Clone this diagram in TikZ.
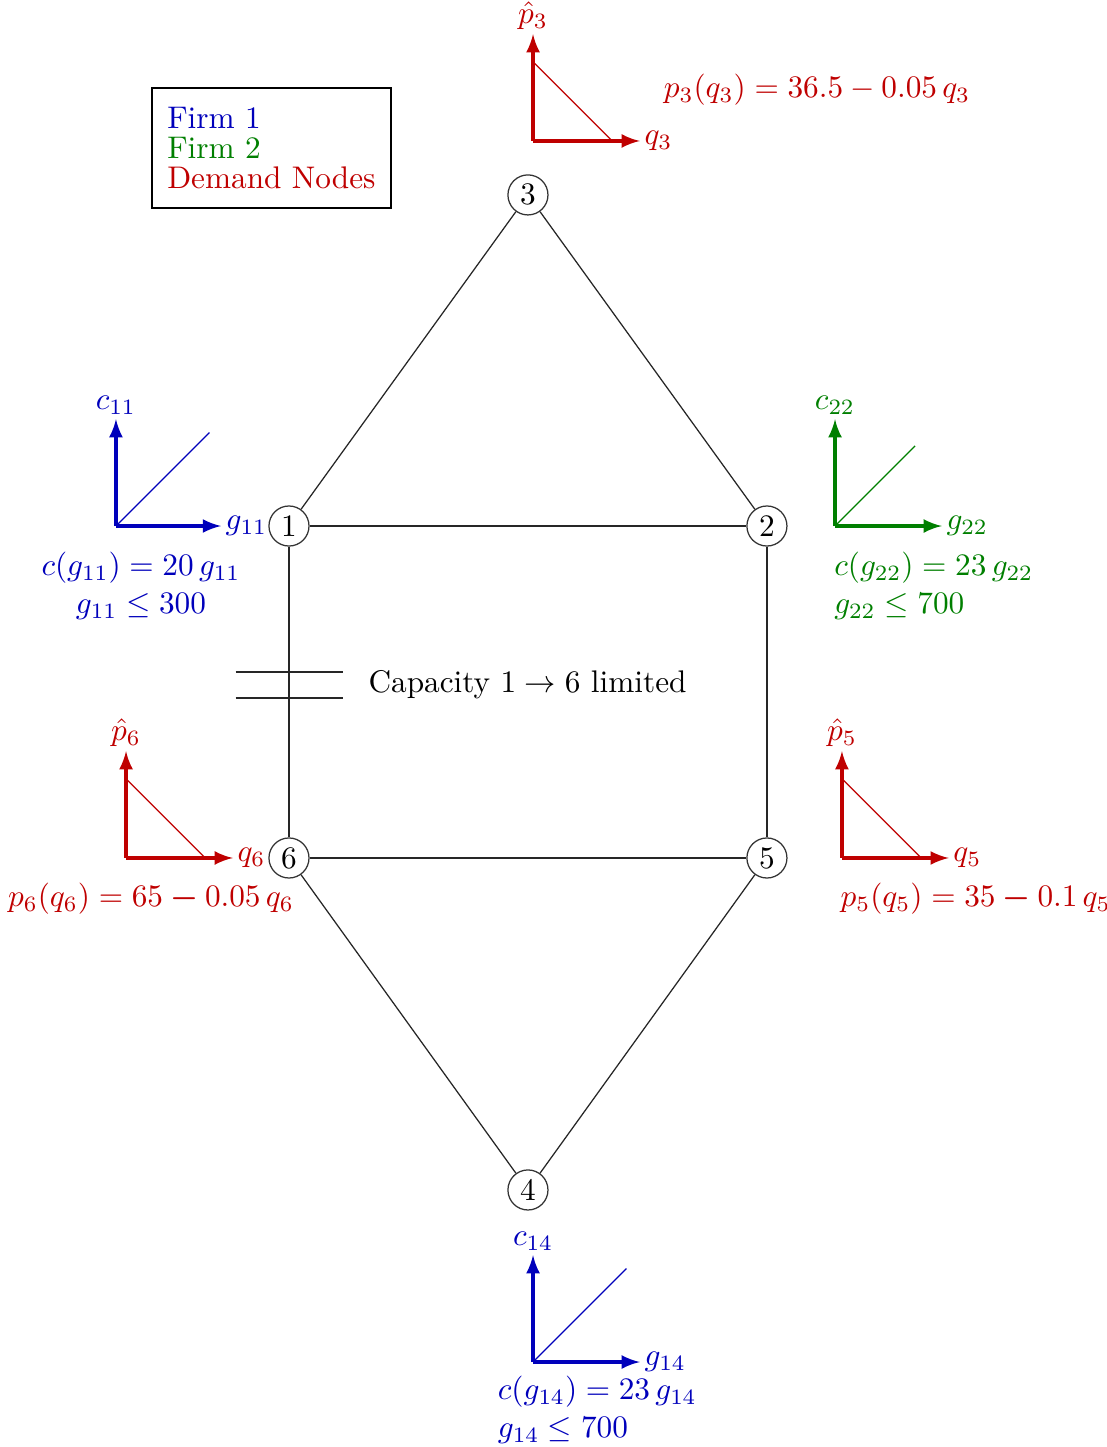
\documentclass[tikz,border=0pt]{standalone}
\usepackage{amsmath,amssymb}
\usepackage{xcolor}
\usepackage{tikz}
\usetikzlibrary{arrows, positioning}
\definecolor{firmone}{HTML}{0000BB}
\definecolor{firmtwo}{HTML}{007F00}
\definecolor{demand}{HTML}{BF0000}

\begin{document}
\begin{tikzpicture}[
        on grid,
        bus/.style={circle, draw=black!80, inner sep=0.5pt, minimum size=0.45cm},
        line/.style={draw=black!85},
        axisline/.style={-latex, line width=1pt},
        curve/.style={thin},
        legendbox/.style={rectangle, draw, semithick, align=left, inner xsep=5pt, inner ysep=6pt, font=\fontsize{10}{9.6}\selectfont}
    ]
        \useasboundingbox (-3.247,-10.348) rectangle (9.191,5.910);

        % Nodes
        \node (n1) [bus] {1};
        \node (n2) [bus, right=5.37cm of n1] {2};
        \node (n3) [bus, above right=3.72cm and 2.685cm of n1] {3};
        \node (n6) [bus, below=3.73cm of n1] {6};
        \node (n5) [bus, below=3.73cm of n2] {5};
        \node (n4) [bus, below right=7.46cm and 2.685cm of n1] {4};

        \node (legend) [legendbox] at (-0.197,4.247) {{\color{firmone}Firm 1}\\{\color{firmtwo}Firm 2}\\{\color{demand}Demand Nodes}};

        % Lines
        \draw [line, semithick] (n1) -- (n2);
        \draw [line, thick] (n1) -- (n6);
        \draw [line] (n2) -- (n5);
        \draw [line, semithick] (n6) -- (n5);
        \draw [line, thin] (n1) -- (n3);
        \draw [line, thin] (n3) -- (n2);
        \draw [line, thin] (n6) -- (n4);
        \draw [line, thin] (n4) -- (n5);

        % Capacity limit
        \draw [line, thick] (-0.6,-1.64) -- (0.61,-1.64);
        \draw [line, thick] (-0.6,-1.93) -- (0.61,-1.93);
        \node (cap) [anchor=west] at (0.77,-1.787) {Capacity $1 \to 6$ limited};

        % Demand node 3
        \coordinate (o3) at (2.742,4.326);
        \draw [demand, axisline] (o3) -- ++(0,1.2) node [above, inner sep=1pt] {$\hat p_3$};
        \draw [demand, axisline] (o3) -- ++(1.2,0) node [right, inner sep=1pt] {$q_3$};
        \draw [demand, curve] ([yshift=0.89cm]o3) -- ++(0.89,-0.89);
        \node (f3) [text=demand] at (5.933,4.899) {$p_3(q_3) = 36.5 - 0.05\,q_3$};

        % Firm 1 at node 1
        \coordinate (o1) at (-1.944,0);
        \draw [firmone, axisline] (o1) -- ++(0,1.2) node [above, inner sep=1pt] {$c_{11}$};
        \draw [firmone, axisline] (o1) -- ++(1.18,0) node [right, inner sep=1pt] {$g_{11}$};
        \draw [firmone, curve] (o1) -- ++(1.05,1.05);
        \node (f1) [text=firmone, align=center] at (-1.663,-0.674) {$c(g_{11}) = 20\,g_{11}$\\$g_{11} \le 300$};

        % Firm 2 at node 2
        \coordinate (o2) at (6.135,0);
        \draw [firmtwo, axisline] (o2) -- ++(0,1.2) node [above, inner sep=1pt] {$c_{22}$};
        \draw [firmtwo, axisline] (o2) -- ++(1.2,0) node [right, inner sep=1pt] {$g_{22}$};
        \draw [firmtwo, curve] (o2) -- ++(0.9,0.9);
        \node (f2) [text=firmtwo, align=left, anchor=west, inner sep=0pt] at (6.12,-0.674) {$c(g_{22}) = 23\,g_{22}$\\$g_{22} \le 700$};

        % Demand node 6
        \coordinate (o6) at (-1.831,-3.73);
        \draw [demand, axisline] (o6) -- ++(0,1.2) node [above, inner sep=1pt] {$\hat p_6$};
        \draw [demand, axisline] (o6) -- ++(1.2,0) node [right, inner sep=1pt] {$q_6$};
        \draw [demand, curve] ([yshift=0.89cm]o6) -- ++(0.89,-0.89);
        \node (f6) [text=demand] at (-1.551,-4.191) {$p_6(q_6) = 65 \mathbin{\boldsymbol{-}} 0.05\,q_6$};

        % Demand node 5
        \coordinate (o5) at (6.213,-3.73);
        \draw [demand, axisline] (o5) -- ++(0,1.2) node [above, inner sep=1pt] {$\hat p_5$};
        \draw [demand, axisline] (o5) -- ++(1.2,0) node [right, inner sep=1pt] {$q_5$};
        \draw [demand, curve] ([yshift=0.89cm]o5) -- ++(0.89,-0.89);
        \node (f5) [text=demand, anchor=west, inner sep=0pt] at (6.19,-4.191) {$p_5(q_5) = 35 \mathbin{\boldsymbol{-}} 0.1\,q_5$};

        % Firm 1 at node 4
        \coordinate (o4) at (2.742,-9.393);
        \draw [firmone, axisline] (o4) -- ++(0,1.2) node [above, inner sep=1pt] {$c_{14}$};
        \draw [firmone, axisline] (o4) -- ++(1.2,0) node [right, inner sep=1pt] {$g_{14}$};
        \draw [firmone, curve] (o4) -- ++(1.05,1.05);
        \node (f4) [text=firmone, align=left, anchor=west, inner sep=0pt] at (2.34,-9.933) {$c(g_{14}) = 23\,g_{14}$\\$g_{14} \le 700$};
    \end{tikzpicture}
\end{document}
